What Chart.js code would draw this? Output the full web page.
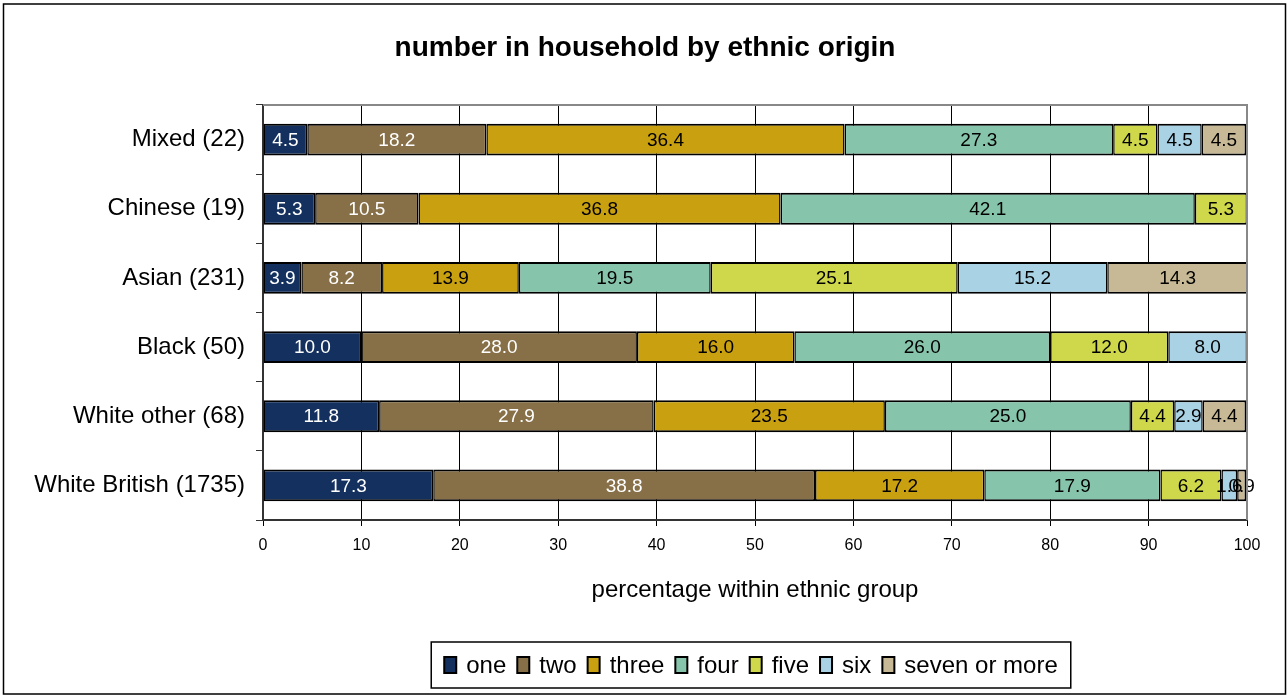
<!DOCTYPE html>
<html>
<head>
<meta charset="utf-8">
<script src="https://cdn.jsdelivr.net/npm/chart.js@4"></script>
<style>
  body { margin: 0; background: #fff; }
  canvas { display: block; }
</style>
</head>
<body>
<canvas id="chart" width="1287" height="695"></canvas>
<script>
const groups = ['Mixed (22)', 'Chinese (19)', 'Asian (231)', 'Black (50)', 'White other (68)', 'White British (1735)'];
const sizes = ['one', 'two', 'three', 'four', 'five', 'six', 'seven or more'];

// percentage within each group, one array per household size
const one   = [4.5, 5.3, 3.9, 10.0, 11.8, 17.3];
const two   = [18.2, 10.5, 8.2, 28.0, 27.9, 38.8];
const three = [36.4, 36.8, 13.9, 16.0, 23.5, 17.2];
const four  = [27.3, 42.1, 19.5, 26.0, 25.0, 17.9];
const five  = [4.5, 5.3, 25.1, 12.0, 4.4, 6.2];
const six   = [4.5, null, 15.2, 8.0, 2.9, 1.6];
const seven = [4.5, null, 14.3, null, 4.4, 0.9];

const xTicks = [0, 10, 20, 30, 40, 50, 60, 70, 80, 90, 100];

const colors = ['#13305f', '#876f47', '#c9a00f', '#86c4ab', '#cfd84a', '#a9d2e5', '#c7b995'];
const labelColors = ['#fff', '#fff', '#000', '#000', '#000', '#000', '#000'];
const FONT = '"Liberation Sans", Arial, sans-serif';

const series = [one, two, three, four, five, six, seven];

// title, outer frame, plot frame, bar labels and legend
const extras = {
  id: 'extras',
  beforeDraw(chart) {
    const ctx = chart.ctx;
    ctx.save();
    ctx.fillStyle = '#fff';
    ctx.fillRect(0, 0, chart.width, chart.height);
    ctx.restore();
  },
  afterDraw(chart) {
    const ctx = chart.ctx;
    const area = chart.chartArea;
    ctx.save();

    // outer border
    ctx.strokeStyle = '#000';
    ctx.lineWidth = 1.5;
    ctx.strokeRect(3.5, 4, 1282, 690);

    // plot frame top / right
    ctx.strokeStyle = '#888';
    ctx.lineWidth = 2;
    ctx.beginPath();
    ctx.moveTo(area.left, area.top);
    ctx.lineTo(area.right, area.top);
    ctx.lineTo(area.right, area.bottom);
    ctx.stroke();

    // title
    ctx.fillStyle = '#000';
    ctx.font = 'bold 28px ' + FONT;
    ctx.textAlign = 'center';
    ctx.textBaseline = 'middle';
    ctx.fillText('number in household by ethnic origin', 645, 48);

    // legend
    ctx.font = '24px ' + FONT;
    const boxW = 12, boxH = 16, gap = 10, itemGap = 11, pad = 13;
    let total = 0;
    sizes.forEach((s, i) => {
      total += boxW + gap + ctx.measureText(s).width;
      if (i < sizes.length - 1) total += itemGap;
    });
    const lw = total + pad * 2;
    const lx = 751 - lw / 2, ly = 642, lh = 46;
    ctx.strokeStyle = '#000';
    ctx.lineWidth = 1.5;
    ctx.strokeRect(lx, ly, lw, lh);
    let x = lx + pad;
    const cy = ly + lh / 2;
    sizes.forEach((s, i) => {
      ctx.fillStyle = colors[i];
      ctx.fillRect(x, cy - boxH / 2, boxW, boxH);
      ctx.strokeStyle = '#000';
      ctx.lineWidth = 2;
      ctx.strokeRect(x, cy - boxH / 2, boxW, boxH);
      x += boxW + gap;
      ctx.fillStyle = '#000';
      ctx.textAlign = 'left';
      ctx.fillText(s, x, cy + 1);
      x += ctx.measureText(s).width + itemGap;
    });
    ctx.restore();
  },
  afterDatasetsDraw(chart) {
    const ctx = chart.ctx;
    ctx.save();
    ctx.font = '19px ' + FONT;
    ctx.textAlign = 'center';
    ctx.textBaseline = 'middle';
    chart.data.datasets.forEach((ds, i) => {
      const meta = chart.getDatasetMeta(i);
      meta.data.forEach((bar, j) => {
        const v = ds.data[j];
        if (v === null || v === undefined) return;
        ctx.fillStyle = labelColors[i];
        ctx.fillText(v.toFixed(1), (bar.x + bar.base) / 2, bar.y + 1);
      });
    });
    ctx.restore();
  }
};

new Chart(document.getElementById('chart'), {
  type: 'bar',
  data: {
    labels: groups,
    datasets: series.map((d, i) => ({
      label: sizes[i],
      data: d,
      backgroundColor: colors[i],
      borderColor: '#000',
      borderWidth: { top: 2, bottom: 2, left: 1.5, right: 1.5 },
      borderSkipped: false,
      barPercentage: 0.46,
      categoryPercentage: 1
    }))
  },
  options: {
    indexAxis: 'y',
    responsive: false,
    animation: false,
    layout: { padding: { top: 105, right: 40, left: 0, bottom: 0 } },
    plugins: {
      legend: { display: false },
      title: { display: false },
      tooltip: { enabled: false }
    },
    scales: {
      x: {
        stacked: true,
        min: 0,
        max: 100,
        afterFit(scale) { scale.height = 175; },
        afterBuildTicks(scale) { scale.ticks = xTicks.map(v => ({ value: v })); },
        ticks: { color: '#000', font: { family: FONT, size: 16 }, padding: 10 },
        grid: { color: '#000', lineWidth: 1, tickLength: 6 },
        border: { color: '#333', width: 2 },
        title: {
          display: true,
          text: 'percentage within ethnic group',
          color: '#000',
          font: { family: FONT, size: 24 },
          padding: { top: 0, bottom: 90 }
        }
      },
      y: {
        stacked: true,
        afterFit(scale) { scale.width = 263; },
        ticks: { color: '#000', font: { family: FONT, size: 24 }, padding: 11 },
        grid: { drawOnChartArea: false, color: '#333', tickLength: 7, offset: true },
        border: { color: '#333', width: 2 }
      }
    }
  },
  plugins: [extras]
});
</script>
</body>
</html>
